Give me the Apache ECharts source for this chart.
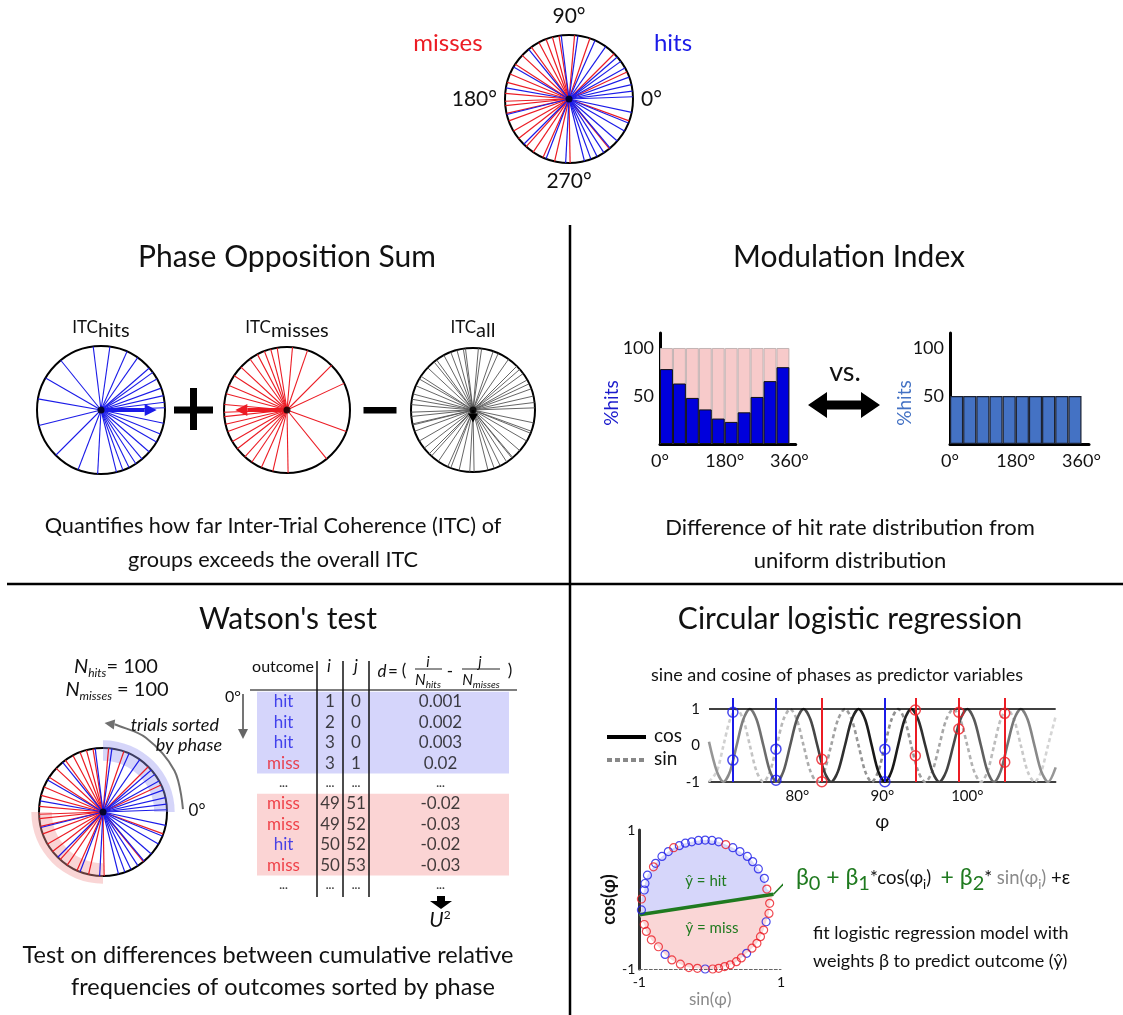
<!DOCTYPE html>
<html><head><meta charset="utf-8">
<script src="https://cdn.jsdelivr.net/npm/echarts@6/dist/echarts.min.js"></script>
<style>html,body{margin:0;padding:0;background:#fff}#c{width:1123px;height:1015px}</style>
</head><body><div id="c"></div>
<script>
// ---------------- data ----------------
const hitAngles = [97, 82, 66, 55, 41, 36, 29, 20, 13, 7, 2, 348, 338, 330, 319, 310, 303, 296, 290, 284, 267, 249, 225, 194, 170, 150, 129];
const missAngles = [111, 105, 99, 85, 71, 118, 126, 137, 147, 157, 165, 175, 182, 186, 193, 200, 210, 218, 228, 236, 246, 257, 271, 309, 340, 25, 45];
const itcHits = [0.87, 0];
const itcMisses = [0.82, 180];
const itcAll = [0.2, 270];

const phaseBins = [18, 54, 90, 126, 162, 198, 234, 270, 306, 342];
const hitRatePercent = [78, 63, 48, 36, 26.5, 23, 33, 49, 65.5, 80];
const totalPercent = [100, 100, 100, 100, 100, 100, 100, 100, 100, 100];
const uniformPercent = [50, 50, 50, 50, 50, 50, 50, 50, 50, 50];
const binTicks = [0, 180, 360];
const rateTicks = [50, 100];

const tableOutcome = ['hit', 'hit', 'hit', 'miss', '...', 'miss', 'miss', 'hit', 'miss', '...'];
const tableI = ['1', '2', '3', '3', '...', '49', '49', '50', '50', '...'];
const tableJ = ['0', '0', '0', '1', '...', '51', '52', '52', '53', '...'];
const tableD = ['0.001', '0.002', '0.003', '0.02', '...', '-0.02', '-0.03', '-0.02', '-0.03', '...'];
const shadedRowSpans = [[0, 3], [5, 8]];
const sortedArcs = [[0, 90], [180, 270]];
const sortArrowPath = [[1.25, 2], [1.29, 30], [1.34, 60], [1.38, 82], [1.39, 89]];

const cosCurve = [[69.6, 0.1], [70.52, -0.71], [71.3, -1], [72.08, -0.71], [72.85, 0], [73.63, 0.71], [74.41, 1], [75.2, 0.71], [76.0, 0], [76.78, -0.71], [77.57, -1], [78.36, -0.71], [79.15, 0], [79.94, 0.71], [80.73, 1], [81.54, 0.71], [82.35, 0], [83.16, -0.71], [83.97, -1], [84.78, -0.71], [85.6, 0], [86.4, 0.71], [87.2, 1], [87.98, 0.71], [88.75, 0], [89.52, -0.71], [90.3, -1], [91.08, -0.71], [91.85, 0], [92.62, 0.71], [93.4, 1], [94.22, 0.71], [95.05, 0], [95.88, -0.71], [96.7, -1], [97.52, -0.71], [98.35, 0], [99.18, 0.71], [100.0, 1], [100.8, 0.71], [101.6, 0], [102.38, -0.71], [103.15, -1], [103.92, -0.71], [104.7, 0], [105.5, 0.71], [106.3, 1], [107.1, 0.71], [107.9, 0], [108.7, -0.71], [109.5, -1], [110.4, -0.6]];
const sinCurve = [[69.6, -0.99], [70.52, -0.71], [71.3, 0], [72.08, 0.71], [72.85, 1], [73.63, 0.71], [74.41, 0], [75.2, -0.71], [76.0, -1], [76.78, -0.71], [77.57, 0], [78.36, 0.71], [79.15, 1], [79.94, 0.71], [80.73, 0], [81.54, -0.71], [82.35, -1], [83.16, -0.71], [83.97, 0], [84.78, 0.71], [85.6, 1], [86.4, 0.71], [87.2, 0], [87.98, -0.71], [88.75, -1], [89.52, -0.71], [90.3, 0], [91.08, 0.71], [91.85, 1], [92.62, 0.71], [93.4, 0], [94.22, -0.71], [95.05, -1], [95.88, -0.71], [96.7, 0], [97.52, 0.71], [98.35, 1], [99.18, 0.71], [100.0, 0], [100.8, -0.71], [101.6, -1], [102.38, -0.71], [103.15, 0], [103.92, 0.71], [104.7, 1], [105.5, 0.71], [106.3, 0], [107.1, -0.71], [107.9, -1], [108.7, -0.71], [109.5, 0], [110.4, 0.8]];
const hitPhases = [72.41, 77.48, 90.3];
const missPhases = [82.88, 93.88, 99.0, 104.4];
const hitPredictors = [[72.41, 0.91], [72.41, -0.4], [77.48, -0.1], [77.48, -0.95], [90.3, -0.1], [90.3, -0.99]];
const missPredictors = [[82.88, -0.38], [82.88, -0.99], [93.88, 0.97], [93.88, -0.28], [99.0, 0.91], [99.0, 0.45], [104.4, 0.88], [104.4, -0.46]];
const phaseTicks = [80, 90, 100];

// [sin(phi), cos(phi), outcome], ordered clockwise around the circle
const circlePoints = [
 [-0.97, -0.15, 'hit'], [-0.97, 0.007, 'miss'], [-0.93, 0.137, 'hit'], [-0.92, 0.23, 'hit'], [-0.885, 0.35, 'hit'],
 [-0.80, 0.47, 'miss'], [-0.77, 0.52, 'hit'], [-0.68, 0.62, 'hit'], [-0.59, 0.69, 'hit'], [-0.515, 0.745, 'miss'],
 [-0.435, 0.774, 'hit'], [-0.35, 0.81, 'hit'], [-0.26, 0.83, 'hit'], [-0.165, 0.85, 'hit'], [-0.07, 0.855, 'hit'],
 [0.026, 0.85, 'hit'], [0.12, 0.83, 'hit'], [0.22, 0.79, 'miss'], [0.32, 0.745, 'hit'], [0.42, 0.69, 'hit'],
 [0.525, 0.62, 'hit'], [0.60, 0.545, 'hit'], [0.68, 0.44, 'hit'], [0.765, 0.305, 'hit'], [0.80, 0.15, 'miss'],
 [0.84, -0.055, 'miss'], [0.83, -0.20, 'miss'], [0.79, -0.32, 'hit'], [0.755, -0.44, 'miss'], [0.71, -0.535, 'miss'],
 [0.66, -0.63, 'miss'], [0.59, -0.70, 'miss'], [0.515, -0.775, 'hit'], [0.44, -0.84, 'miss'], [0.37, -0.895, 'miss'],
 [0.285, -0.94, 'miss'], [0.205, -0.965, 'miss'], [0.12, -0.99, 'miss'], [0.036, -1.0, 'miss'], [-0.07, -1.0, 'hit'],
 [-0.18, -0.99, 'miss'], [-0.30, -0.98, 'miss'], [-0.42, -0.93, 'miss'], [-0.54, -0.87, 'miss'], [-0.636, -0.79, 'hit'],
 [-0.73, -0.68, 'miss'], [-0.83, -0.58, 'miss'], [-0.90, -0.46, 'miss'], [-0.93, -0.36, 'miss']
];
const regressionLine = [[-1, -0.22], [0.894, 0.075]];
const formulaLink = [[0.894, 0.075], [1.18, 0.38]];
const unitTicks = [-1, 1];
const predictorTicks = [-1, 0, 1];

// ---------------- chart ----------------
const chart = echarts.init(document.getElementById('c'), null, {renderer: 'canvas', width: 1123, height: 1015});
const F = 'Lato, "Noto Sans", sans-serif';
const RED = '#ec1c24', BLUE = '#1b1be8', GREEN = '#1f7a1f';

const polarDefs = [
  {center: [569, 99], r: 64},
  {center: [101, 410], r: 64},
  {center: [287, 410], r: 63},
  {center: [473, 410], r: 62},
  {center: [103, 812], r: 64}
];
const polar = polarDefs.map(p => ({center: p.center, radius: p.r}));
const angleAxis = polarDefs.map((p, i) => ({
  polarIndex: i, type: 'value', min: 0, max: 360, interval: 90, startAngle: 0, clockwise: false,
  axisLine: {show: true, lineStyle: {color: '#000', width: 2}}, axisTick: {show: false}, splitLine: {show: false},
  axisLabel: {show: i === 0, margin: 8, fontSize: 21, fontFamily: F, color: '#111', formatter: v => v === 360 ? '' : v + '°'}
}));
const radiusAxis = polarDefs.map((p, i) => ({polarIndex: i, type: 'value', min: 0, max: 1, show: false,
  axisLine: {show: false}, axisTick: {show: false}, axisLabel: {show: false}, splitLine: {show: false}}));

function rays(pi, angles, color, width) {
  return {type: 'custom', coordinateSystem: 'polar', polarIndex: pi, silent: true, z: 3,
    data: angles.map(a => [1, a]),
    renderItem: (params, api) => {
      const a = api.value(1);
      const p0 = api.coord([0, a]), p1 = api.coord([api.value(0), a]);
      return {type: 'line', shape: {x1: p0[0], y1: p0[1], x2: p1[0], y2: p1[1]}, style: {stroke: color, lineWidth: width}};
    }};
}
function vector(pi, vec, color, shaft, headL, headW) {
  return {type: 'custom', coordinateSystem: 'polar', polarIndex: pi, silent: true, z: 6, data: [vec],
    renderItem: (params, api) => {
      const c = api.coord([0, api.value(1)]), t = api.coord([api.value(0), api.value(1)]);
      const dx = t[0] - c[0], dy = t[1] - c[1], L = Math.hypot(dx, dy), ux = dx / L, uy = dy / L;
      const bx = t[0] - ux * headL, by = t[1] - uy * headL;
      return {type: 'group', children: [
        {type: 'line', shape: {x1: c[0], y1: c[1], x2: bx, y2: by}, style: {stroke: color, lineWidth: shaft}},
        {type: 'polygon', shape: {points: [[t[0], t[1]], [bx - uy * headW, by + ux * headW], [bx + uy * headW, by - ux * headW]]}, style: {fill: color}}
      ]};
    }};
}
function centerDot(pi) {
  return {type: 'scatter', coordinateSystem: 'polar', polarIndex: pi, data: [[0, 0]], symbolSize: 7, itemStyle: {color: '#000'}, silent: true, z: 8};
}

const series = [];
series.push(rays(0, missAngles, RED, 1.2), rays(0, hitAngles, BLUE, 1.2), centerDot(0));
series.push(rays(1, hitAngles, BLUE, 1.1), vector(1, itcHits, BLUE, 4, 12, 6), centerDot(1));
series.push(rays(2, missAngles, RED, 1.1), vector(2, itcMisses, RED, 4, 12, 6), centerDot(2));
series.push(rays(3, hitAngles.concat(missAngles), '#555', 0.9), vector(3, itcAll, '#000', 3, 9, 5), centerDot(3));
series.push({type: 'custom', coordinateSystem: 'polar', polarIndex: 4, silent: true, z: 1, data: sortedArcs,
  renderItem: (params, api) => {
    const c = api.coord([0, 0]), e = api.coord([1, 0]);
    const R = Math.hypot(e[0] - c[0], e[1] - c[1]);
    const a0 = api.value(0), a1 = api.value(1);
    return {type: 'sector', shape: {cx: c[0], cy: c[1], r0: R * 0.8, r: R * 1.12, startAngle: -a0 * Math.PI / 180, endAngle: -a1 * Math.PI / 180, clockwise: false},
      style: {fill: params.dataIndex === 0 ? 'rgba(150,150,240,0.4)' : 'rgba(240,150,150,0.4)'}};
  }});
series.push(rays(4, missAngles, RED, 1.2), rays(4, hitAngles, BLUE, 1.2), centerDot(4));
series.push({type: 'custom', coordinateSystem: 'polar', polarIndex: 4, silent: true, z: 2, data: [[0, 0]],
  renderItem: (params, api) => {
    const pts = sortArrowPath.map(p => api.coord(p));
    const n = pts.length, t = pts[n - 1], p = pts[n - 2];
    const dx = t[0] - p[0], dy = t[1] - p[1], L = Math.hypot(dx, dy), ux = dx / L, uy = dy / L;
    const hl = 10, hw = 5, bx = t[0] - ux * hl, by = t[1] - uy * hl;
    return {type: 'group', children: [
      {type: 'polyline', shape: {points: pts.slice(0, n - 1).concat([[bx, by]]), smooth: 0.35}, style: {stroke: '#707070', lineWidth: 2, fill: null}},
      {type: 'polygon', shape: {points: [[t[0], t[1]], [bx - uy * hw, by + ux * hw], [bx + uy * hw, by - ux * hw]]}, style: {fill: '#707070'}}
    ]};
  }});

const grid = [
  {left: 660, top: 333, width: 135.7, height: 111},
  {left: 950, top: 333, width: 139, height: 111},
  {left: 709, top: 698, width: 346.7, height: 84},
  {left: 639.3, top: 830, width: 141.7, height: 139},
  {left: 257, top: 691.8, width: 252, height: 204},
  {left: 250, top: 691.8, width: 67, height: 204},
  {left: 317, top: 691.8, width: 26, height: 204},
  {left: 343, top: 691.8, width: 26, height: 204},
  {left: 369, top: 691.8, width: 143, height: 204}
];
const axisTxt = {fontFamily: F, color: '#111'};
const xAxis = [], yAxis = [];
[[0, 377.5], [1, 380.5]].forEach(([g, mx]) => {
  xAxis.push({gridIndex: g, type: 'value', min: 0, max: mx,
    axisLine: {show: true, onZero: false, lineStyle: {color: '#000', width: 3}}, axisTick: {show: false}, splitLine: {show: false},
    axisLabel: Object.assign({customValues: binTicks, formatter: v => v + '°', fontSize: 18, margin: 8}, axisTxt)});
  yAxis.push({gridIndex: g, type: 'value', min: 0, max: 115.6,
    axisLine: {show: true, onZero: false, lineStyle: {color: '#000', width: 3}}, axisTick: {show: false}, splitLine: {show: false},
    axisLabel: Object.assign({customValues: rateTicks, fontSize: 18, margin: 6}, axisTxt)});
});
xAxis.push({gridIndex: 2, type: 'value', min: 69.6, max: 110.4,
  axisLine: {show: true, onZero: false, lineStyle: {color: '#000', width: 1.5}}, axisTick: {show: false}, splitLine: {show: false},
  axisLabel: Object.assign({customValues: phaseTicks, formatter: v => v + '°', fontSize: 15, margin: 7}, axisTxt),
  name: 'φ', nameLocation: 'middle', nameGap: 30, nameTextStyle: {fontFamily: F, fontSize: 19, color: '#111'}});
yAxis.push({gridIndex: 2, type: 'value', min: -1, max: 1.3,
  axisLine: {show: false}, axisTick: {show: false}, splitLine: {show: false},
  axisLabel: Object.assign({customValues: predictorTicks, fontSize: 15, margin: 9}, axisTxt)});
xAxis.push({gridIndex: 3, type: 'value', min: -1, max: 1,
  axisLine: {show: true, onZero: false, lineStyle: {color: '#666', width: 1, type: [3, 2]}}, axisTick: {show: false}, splitLine: {show: false},
  axisLabel: Object.assign({customValues: unitTicks, fontSize: 14, margin: 6}, axisTxt),
  name: 'sin(φ)', nameLocation: 'middle', nameGap: 22, nameTextStyle: {fontFamily: F, fontSize: 17, color: '#8a8a8a'}});
yAxis.push({gridIndex: 3, type: 'value', min: -1, max: 1,
  axisLine: {show: true, onZero: false, lineStyle: {color: '#333', width: 3}}, axisTick: {show: false}, splitLine: {show: false},
  axisLabel: Object.assign({customValues: unitTicks, fontSize: 14, margin: 4}, axisTxt),
  name: 'cos(φ)', nameLocation: 'middle', nameGap: 14, nameTextStyle: {fontFamily: F, fontSize: 18, color: '#111', fontWeight: 'bold'}});
for (let g = 4; g <= 8; g++) {
  xAxis.push({gridIndex: g, type: 'category', data: ['c'], show: false});
  yAxis.push({gridIndex: g, type: 'category', data: tableOutcome.map((_, i) => String(i)), inverse: true, show: false});
}

series.push({type: 'bar', xAxisIndex: 0, yAxisIndex: 0, data: phaseBins.map((b, i) => [b, totalPercent[i]]), barWidth: 12.9, barGap: '-100%',
  itemStyle: {color: '#f7caca', borderColor: '#c2b3b3', borderWidth: 1}, z: 2, silent: true});
series.push({type: 'bar', xAxisIndex: 0, yAxisIndex: 0, data: phaseBins.map((b, i) => [b, hitRatePercent[i]]), barWidth: 12.9, barGap: '-100%',
  itemStyle: {color: '#0000dc', borderColor: '#111', borderWidth: 1}, z: 3, silent: true});
series.push({type: 'bar', xAxisIndex: 1, yAxisIndex: 1, data: phaseBins.map((b, i) => [b, uniformPercent[i]]), barWidth: 13.15,
  itemStyle: {color: '#4472c4', borderColor: '#1b2233', borderWidth: 1.2}, z: 3, silent: true});

series.push({type: 'line', xAxisIndex: 2, yAxisIndex: 2, data: sinCurve, smooth: 0.3, showSymbol: false, silent: true, z: 2,
  lineStyle: {width: 2.6, type: [4, 3], color: new echarts.graphic.LinearGradient(0, 0, 1, 0, [{offset: 0, color: '#d8d8d8'}, {offset: 0.5, color: '#8c8c8c'}, {offset: 1, color: '#d8d8d8'}])}});
series.push({type: 'line', xAxisIndex: 2, yAxisIndex: 2, data: cosCurve, smooth: 0.3, showSymbol: false, silent: true, z: 3,
  lineStyle: {width: 2.6, color: new echarts.graphic.LinearGradient(0, 0, 1, 0, [{offset: 0, color: '#9a9a9a'}, {offset: 0.5, color: '#111'}, {offset: 1, color: '#9a9a9a'}])},
  markLine: {silent: true, symbol: 'none', label: {show: false}, lineStyle: {color: '#000', width: 1.5, type: 'solid'}, data: [{yAxis: 1}]}});
series.push({type: 'scatter', xAxisIndex: 2, yAxisIndex: 2, data: hitPredictors, symbol: 'circle', symbolSize: 10, z: 6, silent: true,
  itemStyle: {color: 'rgba(0,0,0,0)', borderColor: BLUE, borderWidth: 1.5},
  markLine: {silent: true, symbol: 'none', label: {show: false}, lineStyle: {color: BLUE, width: 2, type: 'solid'}, data: hitPhases.map(x => ({xAxis: x}))}});
series.push({type: 'scatter', xAxisIndex: 2, yAxisIndex: 2, data: missPredictors, symbol: 'circle', symbolSize: 10, z: 6, silent: true,
  itemStyle: {color: 'rgba(0,0,0,0)', borderColor: RED, borderWidth: 1.5},
  markLine: {silent: true, symbol: 'none', label: {show: false}, lineStyle: {color: RED, width: 2, type: 'solid'}, data: missPhases.map(x => ({xAxis: x}))}});

const lineY = x => regressionLine[0][1] + (x - regressionLine[0][0]) * (regressionLine[1][1] - regressionLine[0][1]) / (regressionLine[1][0] - regressionLine[0][0]);
const abovePts = circlePoints.filter(p => p[1] > lineY(p[0])).map(p => [p[0], p[1]]);
const belowPts = circlePoints.filter(p => p[1] <= lineY(p[0])).map(p => [p[0], p[1]]);
series.push({type: 'custom', xAxisIndex: 3, yAxisIndex: 3, silent: true, z: 1, data: [[0, 0]],
  renderItem: (params, api) => {
    const hitPoly = [regressionLine[0]].concat(abovePts, [regressionLine[1]]).map(p => api.coord(p));
    const missPoly = [regressionLine[1]].concat(belowPts, [regressionLine[0]]).map(p => api.coord(p));
    return {type: 'group', children: [
      {type: 'polygon', shape: {points: hitPoly}, style: {fill: '#d6d6fa'}},
      {type: 'polygon', shape: {points: missPoly}, style: {fill: '#fad6d6'}}
    ]};
  }});
series.push({type: 'line', xAxisIndex: 3, yAxisIndex: 3, data: regressionLine, showSymbol: false, silent: true, z: 4, lineStyle: {color: GREEN, width: 3.5}});
series.push({type: 'line', xAxisIndex: 3, yAxisIndex: 3, data: formulaLink, showSymbol: false, silent: true, z: 4, clip: false, lineStyle: {color: GREEN, width: 1.5}});
series.push({type: 'scatter', xAxisIndex: 3, yAxisIndex: 3, data: circlePoints.filter(p => p[2] === 'hit').map(p => [p[0], p[1]]), symbol: 'circle', symbolSize: 8, z: 5, silent: true,
  itemStyle: {color: 'rgba(0,0,0,0)', borderColor: BLUE, borderWidth: 1.2}});
series.push({type: 'scatter', xAxisIndex: 3, yAxisIndex: 3, data: circlePoints.filter(p => p[2] === 'miss').map(p => [p[0], p[1]]), symbol: 'circle', symbolSize: 8, z: 5, silent: true,
  itemStyle: {color: 'rgba(0,0,0,0)', borderColor: RED, borderWidth: 1.2}});

series.push({type: 'custom', xAxisIndex: 4, yAxisIndex: 4, silent: true, z: 1, data: shadedRowSpans.map(s => [0, s[0], s[1]]), encode: {x: 0, y: [1, 2]},
  renderItem: (params, api) => {
    const y0 = api.coord([0, api.value(1)])[1], y1 = api.coord([0, api.value(2)])[1];
    const h = api.size([0, 1])[1];
    const cs = params.coordSys;
    return {type: 'rect', shape: {x: cs.x, y: Math.min(y0, y1) - h / 2, width: cs.width, height: Math.abs(y1 - y0) + h},
      style: {fill: params.dataIndex === 0 ? '#d5d5fb' : '#fbd4d4'}};
  }});
function tableCol(g, values, colorFn) {
  return {type: 'scatter', xAxisIndex: g, yAxisIndex: g, silent: true, z: 5, symbolSize: 1, itemStyle: {color: 'rgba(0,0,0,0)'},
    data: values.map((v, i) => ({value: [0, i], label: {color: colorFn(i), fontSize: v === '...' ? 12 : 17, fontWeight: v === '...' ? 'bold' : 'normal'}})),
    label: {show: true, position: 'inside', fontFamily: F, formatter: p => values[p.dataIndex]}};
}
const outcomeColor = i => tableOutcome[i] === 'hit' ? BLUE : tableOutcome[i] === 'miss' ? RED : '#111';
series.push(tableCol(5, tableOutcome, outcomeColor));
series.push(tableCol(6, tableI, () => '#111'));
series.push(tableCol(7, tableJ, () => '#111'));
series.push(tableCol(8, tableD, () => '#111'));

// ---------------- graphic (text & decoration) ----------------
function T(text, x, y, size, o = {}) {
  const st = {text, x: 0, y: 0, fontSize: size, fontFamily: F, fill: o.color || '#111',
    align: o.align || 'center', verticalAlign: 'middle', textAlign: o.align || 'center', textVerticalAlign: 'middle',
    fontStyle: o.italic ? 'italic' : 'normal', fontWeight: o.bold ? 'bold' : 'normal'};
  if (o.rich) st.rich = o.rich;
  return {type: 'text', silent: true, z: 20, x, y, rotation: o.rot || 0, style: st};
}
function L(x1, y1, x2, y2, color, w, dash) {
  return {type: 'line', silent: true, z: 20, shape: {x1, y1, x2, y2}, style: {stroke: color, lineWidth: w, lineDash: dash || null}};
}
function P(points, color) { return {type: 'polygon', silent: true, z: 20, shape: {points}, style: {fill: color}}; }
const R = (f) => Object.assign({fontFamily: F, fill: '#111', verticalAlign: 'bottom'}, f);

const g = [];
g.push(L(570, 225, 570, 1015, '#000', 2.5), L(7, 584, 1123, 584, '#000', 2.5));
g.push(T('misses', 448, 43, 24, {color: RED}), T('hits', 673, 43, 24, {color: BLUE}));
g.push(T('Phase Opposition Sum', 287, 257, 30), T('Modulation Index', 849, 257, 30), T("Watson's test", 288, 619, 30), T('Circular logistic regression', 850, 619, 30));
const itcRich = {a: R({fontSize: 17, padding: [0, 0, 4, 0]}), b: R({fontSize: 20})};
g.push(T('{a|ITC}{b|hits}', 101, 330, 17, {rich: itcRich}), T('{a|ITC}{b|misses}', 287, 330, 17, {rich: itcRich}), T('{a|ITC}{b|all}', 473, 330, 17, {rich: itcRich}));
g.push({type: 'rect', silent: true, z: 20, shape: {x: 174, y: 406.5, width: 39, height: 7}, style: {fill: '#000'}});
g.push({type: 'rect', silent: true, z: 20, shape: {x: 190, y: 388, width: 7, height: 42}, style: {fill: '#000'}});
g.push({type: 'rect', silent: true, z: 20, shape: {x: 363.5, y: 407, width: 33, height: 6.5}, style: {fill: '#000'}});
g.push(T('Quantifies how far Inter-Trial Coherence (ITC) of', 273, 526, 21.7), T('groups exceeds the overall ITC', 273, 560, 21.7));
g.push(T('%hits', 612, 403, 19, {color: '#1a1acc', rot: Math.PI / 2}), T('%hits', 905, 403, 19, {color: '#4472c4', rot: Math.PI / 2}));
g.push(T('vs.', 845, 372, 27));
g.push(P([[808, 405], [827, 392], [827, 400.5], [861, 400.5], [861, 392], [880, 405], [861, 418], [861, 409.5], [827, 409.5], [827, 418]], '#000'));
g.push(T('Difference of hit rate distribution from', 850, 528, 22), T('uniform distribution', 850, 561, 22));
const nRich = {n: R({fontSize: 20, fontStyle: 'italic', padding: [0, 0, 3, 0]}), s: R({fontSize: 12, fontStyle: 'italic'}), t: R({fontSize: 20, padding: [0, 0, 3, 0]})};
g.push(T('{n|N}{s|hits}{t|= 100}', 116, 668, 20, {rich: nRich}), T('{n|N}{s|misses}{t| = 100}', 117, 691, 20, {rich: nRich}));
g.push(T('trials sorted', 219, 725, 18, {italic: true, align: 'right'}), T('by phase', 222, 745, 18, {italic: true, align: 'right'}));
g.push(T('0°', 197, 811, 17));
g.push(T('outcome', 283, 667, 16), T('i', 329, 667, 17, {italic: true}), T('j', 356, 667, 17, {italic: true}));
g.push(T('d', 382, 672, 17, {italic: true}), T('=', 393, 672, 17), T('(', 404, 671, 17));
const fracRich = {n: R({fontSize: 15, fontStyle: 'italic', padding: [0, 0, 2, 0]}), s: R({fontSize: 10, fontStyle: 'italic'})};
g.push(T('i', 428, 662, 15, {italic: true}), L(415, 669, 442, 669, '#222', 1), T('{n|N}{s|hits}', 428, 681, 14, {rich: fracRich}));
g.push(T('-', 450, 672, 17));
g.push(T('j', 480, 662, 15, {italic: true}), L(462, 669, 500, 669, '#222', 1), T('{n|N}{s|misses}', 481, 681, 14, {rich: fracRich}));
g.push(T(')', 510, 671, 17));
g.push(L(250, 690, 517, 690, '#555', 1.5));
g.push(L(317, 661, 317, 897, '#111', 1.5), L(343, 661, 343, 897, '#111', 1.5), L(369, 661, 369, 897, '#111', 1.5));
g.push(T('0°', 233, 697, 16), L(243, 694, 243, 731, '#666', 1.8), P([[238, 729], [248, 729], [243, 739]], '#666'));
g.push(P([[437, 896], [445, 896], [445, 901], [452, 901], [441, 909], [430, 901], [437, 901]], '#000'));
g.push(T('{u|U}{s|2}', 440, 920, 20, {rich: {u: R({fontSize: 21, fontStyle: 'italic', verticalAlign: 'middle'}), s: R({fontSize: 12, padding: [0, 0, 10, 0], verticalAlign: 'middle'})}}));
g.push(T('Test on differences between cumulative relative', 268, 955, 23.5), T('frequencies of outcomes sorted by phase', 283, 987, 23.5));
g.push(T('sine and cosine of phases as predictor variables', 837, 675, 18));
g.push(L(607, 737, 646, 737, '#000', 4), T('cos', 654, 736, 19, {align: 'left'}));
g.push(L(607, 760, 646, 760, '#888', 4, [5, 3]), T('sin', 654, 759, 19, {align: 'left'}));
const fr = {
  g: R({fontSize: 23, fill: GREEN, padding: [0, 0, 5, 0]}), gs: R({fontSize: 20, fill: GREEN}),
  k: R({fontSize: 18.5, padding: [0, 0, 6, 0]}), ks: R({fontSize: 13, padding: [0, 0, 3, 0]}),
  s: R({fontSize: 18.5, fill: '#8a8a8a', padding: [0, 0, 6, 0]}), ss: R({fontSize: 13, fill: '#8a8a8a', padding: [0, 0, 3, 0]})
};
g.push(T('{g|β}{gs|0}{g| + β}{gs|1}{k|*cos(φ}{ks|i}{k|)  }{g|+ β}{gs|2}{k|* }{s|sin(φ}{ss|i}{s|)}{k| +ε}', 796, 880, 18, {align: 'left', rich: fr}));
g.push(T('ŷ = hit', 706, 881, 15, {color: GREEN}), T('ŷ = miss', 712, 928, 15, {color: GREEN}));
g.push(T('fit logistic regression model with', 813, 933, 18, {align: 'left'}), T('weights β to predict outcome (ŷ)', 813, 961, 18, {align: 'left'}));

chart.setOption({
  animation: false,
  backgroundColor: '#fff',
  textStyle: {fontFamily: F},
  polar, angleAxis, radiusAxis, grid, xAxis, yAxis, series,
  graphic: {elements: g}
});
</script></body></html>
